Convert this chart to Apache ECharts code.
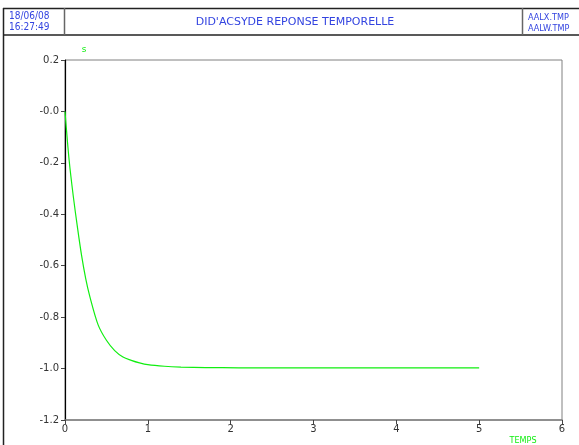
<!DOCTYPE html>
<html>
<head>
<meta charset="utf-8">
<script src="https://cdn.jsdelivr.net/npm/echarts@6/dist/echarts.min.js"></script>
<style>
  html, body { margin: 0; padding: 0; background: #fff; }
  #chart { width: 579px; height: 445px; }
</style>
</head>
<body>
<div id="chart"></div>
<script>
// time (TEMPS) and response s
const temps = [0, 0.05, 0.1, 0.15, 0.2, 0.25, 0.3, 0.4, 0.5, 0.6, 0.7, 0.8, 0.9, 1.0, 1.2, 1.4, 1.7, 2.1, 3, 4, 5];
const sValues = [0, -0.19, -0.33, -0.45, -0.56, -0.65, -0.72, -0.83, -0.89, -0.93, -0.955, -0.968, -0.978, -0.985, -0.991, -0.994, -0.996, -0.997, -0.997, -0.997, -0.997];

const title = "DID'ACSYDE REPONSE TEMPORELLE";
const dateLines = ['18/06/08', '16:27:49'];
const fileLines = ['AALX.TMP', 'AALW.TMP'];

const blue = '#3344e0';
const green = '#11ee11';

const myChart = echarts.init(document.getElementById('chart'));

const option = {
  animation: false,
  textStyle: { fontFamily: 'DejaVu Sans' },
  grid: {
    left: 65, right: 17, top: 60, bottom: 25,
    show: true, borderColor: '#808080', borderWidth: 1
  },
  xAxis: {
    type: 'value',
    min: 0, max: 6, interval: 1,
    splitLine: { show: false },
    axisLine: { onZero: false, lineStyle: { color: '#808080', width: 1.5 } },
    axisTick: { show: true, length: 4, lineStyle: { color: '#444' } },
    axisLabel: { color: '#333', fontSize: 10, margin: 4 }
  },
  yAxis: {
    type: 'value',
    min: -1.2, max: 0.2, interval: 0.2,
    splitLine: { show: false },
    axisLine: { show: true, onZero: false, lineStyle: { color: '#000', width: 1.2 } },
    axisTick: { show: true, length: 4, lineStyle: { color: '#444' } },
    axisLabel: {
      color: '#333', fontSize: 10, margin: 6,
      formatter: v => (Math.abs(v) < 1e-9 ? '-0.0' : v.toFixed(1))
    }
  },
  series: [{
    type: 'line',
    data: temps.map((t, i) => [t, sValues[i]]),
    showSymbol: false,
    smooth: 0.3,
    lineStyle: { color: green, width: 1.2 }
  }],
  graphic: [
    // outer frame / header box
    { type: 'line', shape: { x1: 3.5, y1: 8, x2: 3.5, y2: 445 }, style: { stroke: '#222', lineWidth: 1.5 } },
    { type: 'line', shape: { x1: 3, y1: 8.5, x2: 579, y2: 8.5 }, style: { stroke: '#222', lineWidth: 1.5 } },
    { type: 'line', shape: { x1: 3, y1: 35, x2: 579, y2: 35 }, style: { stroke: '#222', lineWidth: 1.5 } },
    { type: 'line', shape: { x1: 64.5, y1: 8, x2: 64.5, y2: 35 }, style: { stroke: '#666', lineWidth: 1.5 } },
    { type: 'line', shape: { x1: 522.5, y1: 8, x2: 522.5, y2: 35 }, style: { stroke: '#666', lineWidth: 1.5 } },
    { type: 'text', left: 9, top: 11, style: { text: dateLines.join('\n'), fill: blue, font: '10px "DejaVu Sans Condensed"', lineHeight: 11 } },
    { type: 'text', left: 528, top: 12, style: { text: fileLines.join('\n'), fill: blue, font: '9px "DejaVu Sans Condensed"', lineHeight: 11 } },
    { type: 'text', x: 295, y: 22, style: { text: title, fill: blue, font: '11px "DejaVu Sans"', align: 'center', verticalAlign: 'middle' } },
    // axis names
    { type: 'text', x: 84, y: 50, style: { text: 's', fill: green, font: '9px "DejaVu Sans"', align: 'center', verticalAlign: 'middle' } },
    { type: 'text', x: 523, y: 441, style: { text: 'TEMPS', fill: green, font: '9px "DejaVu Sans Condensed"', align: 'center', verticalAlign: 'middle' } }
  ]
};

myChart.setOption(option);
</script>
</body>
</html>
